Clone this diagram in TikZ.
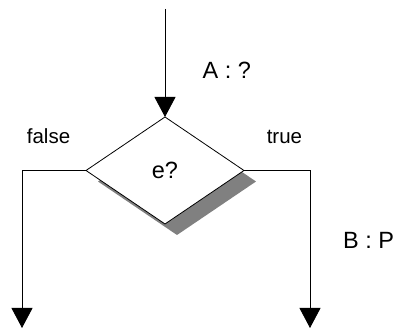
\documentclass[tikz,border=0pt]{standalone}
\usepackage{fontspec}
\setmainfont{Liberation Sans}
\usepackage{tikz}
\usetikzlibrary{positioning,arrows.meta,shapes.geometric,shadows}

\begin{document}
\begin{tikzpicture}[
    x=1pt, y=1pt,
    every node/.style={font=\fontsize{20.5}{22}\selectfont, inner sep=0pt},
    decision/.style={draw, diamond, fill=white, minimum width=158pt, minimum height=107pt,
      outer sep=0pt, line width=0.8pt,
      general shadow={fill=gray, shadow xshift=12pt, shadow yshift=-11pt}},
    flow/.style={line width=0.8pt},
    arrow/.style={flow, -{Triangle[length=20pt,width=21pt]}},
    big/.style={font=\fontsize{23.5}{26}\selectfont}
  ]
  \useasboundingbox (0,0) rectangle (400,329);

  % test
  \node[decision, big] (test) at (165,158.5) {e?};

  % entry
  \coordinate[above=108pt of test.north] (start);
  \node[big, anchor=base west] (pre) at (202.5,250) {A : ?};

  % branches
  \coordinate[left=64pt of test.west] (fcorner);
  \coordinate[right=66pt of test.east] (tcorner);
  \coordinate (fend) at (fcorner |- 0,1);
  \coordinate (tend) at (tcorner |- 0,1);

  \node[anchor=base west] (flabel) at (26.7,185) {false};
  \node[anchor=base west] (tlabel) at (266.6,185) {true};
  \node[big, anchor=base west] (post) at (343,80.7) {B : P};

  % --- arrows ---
  \draw[arrow] (start) -- (test.north);
  \draw[arrow] (test.west) -- (fcorner) -- (fend);
  \draw[arrow] (test.east) -- (tcorner) -- (tend);

\end{tikzpicture}
\end{document}
